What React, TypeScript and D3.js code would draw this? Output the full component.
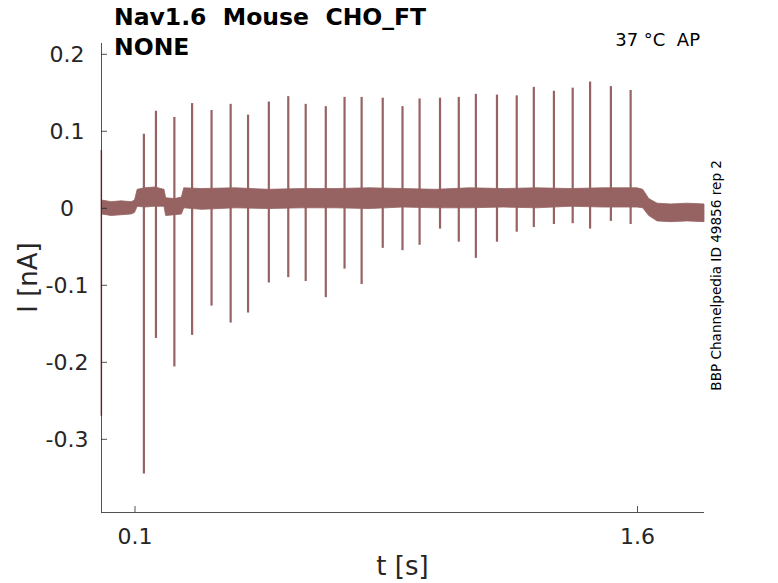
import React, { useEffect, useRef } from "react";
import * as d3 from "d3";

const W = 778;
const H = 583;

const xDomain: [number, number] = [0, 1.8];
const yDomain: [number, number] = [-0.395, 0.214];
const xTicks = [0.1, 1.6];
const yTicks = [-0.3, -0.2, -0.1, 0, 0.1, 0.2];

const titleLines = ["Nav1.6  Mouse  CHO_FT", "NONE"];
const conditionText = "37 °C  AP";
const sideText = "BBP Channelpedia ID 49856 rep 2";
const xLabel = "t [s]";
const yLabel = "I [nA]";

// Spike (action-current) events: time, peak and trough values
const spikeTimes = [
  0.128, 0.164, 0.219, 0.272, 0.33, 0.387, 0.439, 0.501, 0.559, 0.611, 0.671, 0.727, 0.778, 0.841,
  0.9, 0.951, 1.012, 1.068, 1.119, 1.182, 1.241, 1.292, 1.352, 1.408, 1.46, 1.522, 1.581,
];
const spikePeaks = [
  0.096, 0.126, 0.118, 0.136, 0.127, 0.135, 0.121, 0.138, 0.145, 0.135, 0.132, 0.144, 0.144, 0.143,
  0.132, 0.142, 0.143, 0.144, 0.148, 0.147, 0.146, 0.157, 0.152, 0.156, 0.164, 0.158, 0.153,
];
const spikeTroughs = [
  -0.345, -0.169, -0.206, -0.165, -0.127, -0.149, -0.136, -0.097, -0.09, -0.095, -0.116, -0.079,
  -0.099, -0.052, -0.055, -0.048, -0.027, -0.044, -0.065, -0.044, -0.031, -0.025, -0.021, -0.02,
  -0.027, -0.017, -0.021,
];

// Initial capacitive transient
const transientTimes = [0.001];
const transientTops = [0.075];
const transientBottoms = [-0.27];

// Noise envelope of the baseline current
const bandTime = [
  0.002, 0.03, 0.06, 0.09, 0.1, 0.108, 0.13, 0.16, 0.188, 0.193, 0.22, 0.24, 0.247, 0.3, 0.4, 0.5,
  0.6, 0.7, 0.8, 0.9, 1.0, 1.1, 1.2, 1.3, 1.4, 1.5, 1.6, 1.617, 1.635, 1.66, 1.7, 1.75, 1.8,
];
const bandHigh = [
  0.01, 0.008, 0.009, 0.008, 0.01, 0.024, 0.026, 0.027, 0.024, 0.013, 0.012, 0.014, 0.026, 0.025,
  0.026, 0.024, 0.025, 0.025, 0.026, 0.025, 0.024, 0.026, 0.025, 0.026, 0.025, 0.026, 0.026, 0.024,
  0.012, 0.006, 0.005, 0.006, 0.005,
];
const bandLow = [
  -0.008, -0.01, -0.009, -0.008, -0.006, 0.002, 0.001, 0.002, 0.002, -0.01, -0.009, -0.008, 0.0,
  -0.002, 0.0, -0.001, 0.0, 0.0, -0.001, 0.001, 0.0, 0.0, 0.001, 0.0, 0.002, 0.001, 0.001, 0.0,
  -0.01, -0.017, -0.018, -0.017, -0.018,
];

const TRACE = "#966262";
const AXIS = "#262626";
const FONT = "'DejaVu Sans', sans-serif";

function fmt(v: number): string {
  const r = Math.round(v * 10) / 10;
  return r === 0 ? "0" : String(r);
}

export default function App() {
  const ref = useRef<SVGSVGElement>(null);

  useEffect(() => {
    const svg = d3.select(ref.current);
    svg.selectAll("*").remove();

    const left = 101;
    const right = 704;
    const top = 43;
    const bottom = 512;

    const x = d3.scaleLinear().domain(xDomain).range([left, right]);
    const y = d3.scaleLinear().domain(yDomain).range([bottom, top]);

    // noise band
    const bandData = bandTime.map((t, i) => ({ t, lo: bandLow[i], hi: bandHigh[i] }));
    const area = d3
      .area<{ t: number; lo: number; hi: number }>()
      .x((d) => x(d.t))
      .y0((d) => y(d.lo))
      .y1((d) => y(d.hi))
      .curve(d3.curveLinear);
    svg.append("path").attr("d", area(bandData)).attr("fill", TRACE).attr("stroke", TRACE).attr("stroke-width", 0.8);

    // transient
    svg
      .selectAll("line.tr")
      .data(transientTimes)
      .enter()
      .append("line")
      .attr("class", "tr")
      .attr("x1", (d) => x(d))
      .attr("x2", (d) => x(d))
      .attr("y1", (_d, i) => y(transientTops[i]))
      .attr("y2", (_d, i) => y(transientBottoms[i]))
      .attr("stroke", TRACE)
      .attr("stroke-width", 1.6);

    // spikes
    svg
      .selectAll("line.sp")
      .data(spikeTimes)
      .enter()
      .append("line")
      .attr("class", "sp")
      .attr("x1", (d) => x(d))
      .attr("x2", (d) => x(d))
      .attr("y1", (_d, i) => y(spikePeaks[i]))
      .attr("y2", (_d, i) => y(spikeTroughs[i]))
      .attr("stroke", TRACE)
      .attr("stroke-width", 2.2);

    // axes
    const yAxis = d3
      .axisLeft(y)
      .tickValues(yTicks)
      .tickSizeInner(-6)
      .tickSizeOuter(0)
      .tickFormat((d) => fmt(d as number));
    const gy = svg.append("g").attr("transform", `translate(${left},0)`).call(yAxis);
    gy.select(".domain").attr("d", `M0.5,${top}V${bottom}`).attr("stroke", AXIS).attr("stroke-width", 0.8);
    gy.selectAll(".tick line").attr("stroke", AXIS).attr("stroke-width", 0.8);
    gy.selectAll(".tick text")
      .attr("x", -34)
      .attr("dy", "0.36em")
      .attr("text-anchor", "middle")
      .attr("fill", AXIS)
      .style("font-family", FONT)
      .style("font-size", "22px");

    const xAxis = d3
      .axisBottom(x)
      .tickValues(xTicks)
      .tickSizeInner(-6)
      .tickSizeOuter(0)
      .tickFormat((d) => String(d));
    const gx = svg.append("g").attr("transform", `translate(0,${bottom})`).call(xAxis);
    gx.select(".domain").attr("d", `M${left},0.5H${right}`).attr("stroke", AXIS).attr("stroke-width", 0.8);
    gx.selectAll(".tick line").attr("stroke", AXIS).attr("stroke-width", 0.8);
    gx.selectAll(".tick text")
      .attr("y", 32)
      .attr("dy", 0)
      .attr("fill", AXIS)
      .style("font-family", FONT)
      .style("font-size", "22px");

    // axis labels
    svg
      .append("text")
      .attr("x", (left + right) / 2)
      .attr("y", 575)
      .attr("text-anchor", "middle")
      .attr("fill", AXIS)
      .style("font-family", FONT)
      .style("font-size", "26px")
      .text(xLabel);
    svg
      .append("text")
      .attr("transform", `translate(37,${(top + bottom) / 2}) rotate(-90)`)
      .attr("text-anchor", "middle")
      .attr("fill", AXIS)
      .style("font-family", FONT)
      .style("font-size", "26px")
      .text(yLabel);

    // title
    svg
      .selectAll("text.title")
      .data(titleLines)
      .enter()
      .append("text")
      .attr("class", "title")
      .attr("x", 114)
      .attr("y", (_d, i) => 25 + i * 30)
      .attr("fill", "#000")
      .style("font-family", FONT)
      .style("font-weight", "bold")
      .style("font-size", "23.5px")
      .style("white-space", "pre")
      .text((d) => d);

    svg
      .append("text")
      .attr("x", 700)
      .attr("y", 46)
      .attr("text-anchor", "end")
      .attr("fill", "#000")
      .style("font-family", FONT)
      .style("font-size", "18px")
      .style("white-space", "pre")
      .text(conditionText);

    svg
      .append("text")
      .attr("transform", `translate(721,160) rotate(-90)`)
      .attr("text-anchor", "end")
      .attr("fill", "#000")
      .style("font-family", FONT)
      .style("font-size", "13.6px")
      .text(sideText);
  }, []);

  return (
    <svg
      ref={ref}
      width={W}
      height={H}
      style={{ position: "absolute", left: 0, top: 0, background: "#fff" }}
    />
  );
}
